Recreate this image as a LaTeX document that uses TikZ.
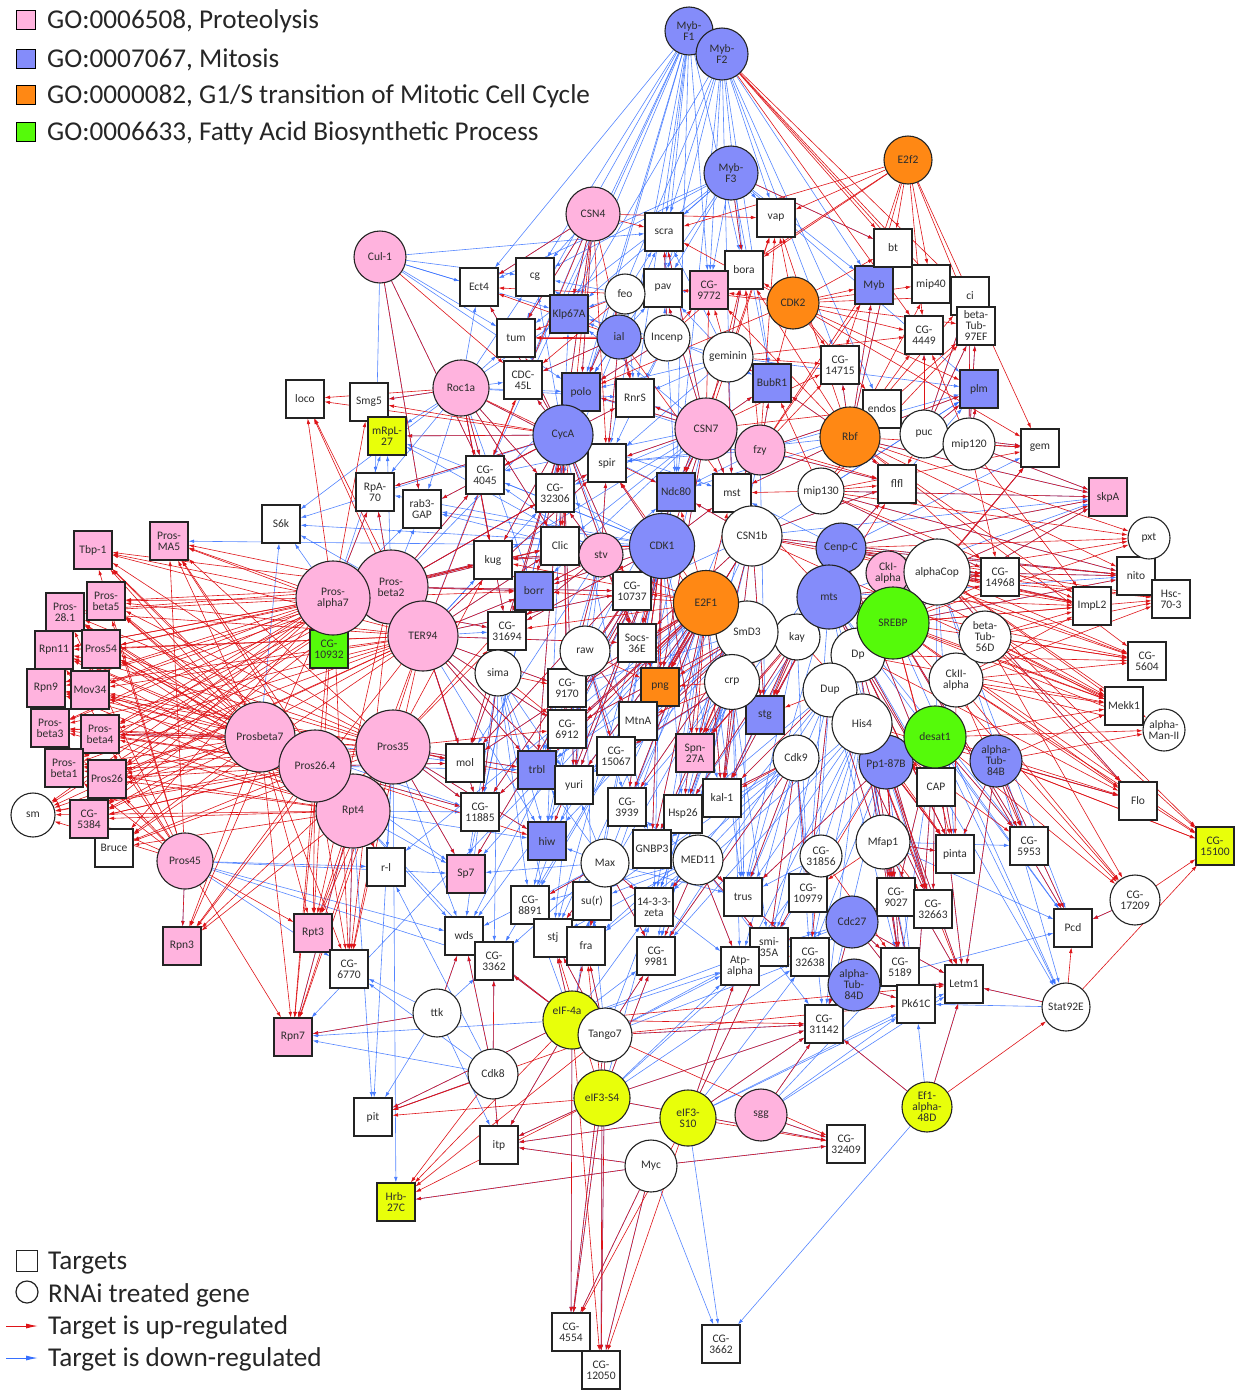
\documentclass[tikz,border=0pt]{standalone}
\usepackage{fontspec}
\setmainfont{Carlito}
\usetikzlibrary{arrows.meta}
\definecolor{pinkc}{RGB}{255,179,222}
\definecolor{bluec}{RGB}{132,140,250}
\definecolor{orangec}{RGB}{255,136,20}
\definecolor{greenc}{RGB}{85,250,10}
\definecolor{yellowc}{RGB}{232,255,10}
\definecolor{upc}{RGB}{222,20,24}
\definecolor{dnc}{RGB}{55,112,255}
\definecolor{txt}{RGB}{45,45,45}
\definecolor{bord}{RGB}{35,35,35}
\newcommand\nodefont{\fontsize{11.5}{11}\selectfont}
\newcommand\legfont{\fontsize{27.2}{30}\selectfont}
\pgfdeclarelayer{edges}
\pgfsetlayers{edges,main}
\begin{document}
\begin{tikzpicture}[x=1pt,y=-1pt,
  tg/.style={rectangle,draw=bord,line width=1.1pt,minimum size=38pt,inner sep=0pt,fill=white,font=\nodefont,text=txt,align=center},
  rg/.style={circle,draw=bord,line width=1.1pt,inner sep=0pt,fill=white,font=\nodefont,text=txt,align=center,minimum size=#1pt},
  rg/.default=50,
  pkf/.style={fill=pinkc}, blf/.style={fill=bluec}, orf/.style={fill=orangec},
  grf/.style={fill=greenc}, yef/.style={fill=yellowc},
  up/.style={draw=upc,line width=0.6pt,-{Latex[length=5.5pt,width=3.6pt]}},
  dn/.style={draw=dnc,opacity=0.85,line width=0.6pt,-{Latex[length=5.5pt,width=3.6pt]}},
  legtxt/.style={anchor=west,font=\legfont,text=black!85,inner sep=0pt}]
\useasboundingbox (0,0) rectangle (1237,1390);

% ---------- legend (top)
\node[draw=black,line width=1.5pt,fill=pinkc,minimum size=19pt,inner sep=0pt] (lg1) at (26,20) {};
\node[draw=black,line width=1.5pt,fill=bluec,minimum size=19pt,inner sep=0pt] (lg2) at (26,59) {};
\node[draw=black,line width=1.5pt,fill=orangec,minimum size=19pt,inner sep=0pt] (lg3) at (26,95) {};
\node[draw=black,line width=1.5pt,fill=greenc,minimum size=19pt,inner sep=0pt] (lg4) at (26,132) {};
\node[legtxt] (lt1) at (47,21) {GO:0006508, Proteolysis};
\node[legtxt] (lt2) at (47,60) {GO:0007067, Mitosis};
\node[legtxt] (lt3) at (47,96) {GO:0000082, G1/S transition of Mitotic Cell Cycle};
\node[legtxt] (lt4) at (47,133) {GO:0006633, Fatty Acid Biosynthetic Process};

% ---------- legend (bottom)
\node[draw=bord,line width=1.2pt,minimum size=21pt,inner sep=0pt] (lgT) at (27,1261) {};
\node[draw=bord,circle,line width=1.2pt,minimum size=22pt,inner sep=0pt] (lgR) at (27,1292) {};
\coordinate (ua) at (6,1326); \coordinate (ub) at (38,1326);
\coordinate (da) at (6,1358); \coordinate (db) at (38,1358);
\draw[draw=upc,line width=1pt,-{Latex[length=12pt,width=5pt]}] (ua) -- (ub);
\draw[draw=dnc,line width=1pt,-{Latex[length=12pt,width=5pt]}] (da) -- (db);
\node[legtxt] (lb1) at (48,1263) {Targets};
\node[legtxt] (lb2) at (48,1295) {RNAi treated gene};
\node[legtxt] (lb3) at (48,1327) {Target is up-regulated};
\node[legtxt] (lb4) at (48,1359) {Target is down-regulated};

% ---------- targets (squares)
\node[tg] (scra) at (664,232) {scra};
\node[tg] (vap) at (776,218) {vap};
\node[tg,blf] (Myb) at (874,285) {Myb};
\node[tg] (bt) at (893,248) {bt};
\node[tg] (Ect4) at (479,287) {Ect4};
\node[tg] (cg) at (535,277) {cg};
\node[tg] (pav) at (663,288) {pav};
\node[tg] (bora) at (744,270) {bora};
\node[tg,pkf] (CG9772) at (709,290) {CG-\\9772};
\node[tg] (mip40) at (931,284) {mip40};
\node[tg] (ci) at (970,296) {ci};
\node[tg] (bTub97EF) at (976,326) {beta-\\Tub-\\97EF};
\node[tg] (CG4449) at (924,335) {CG-\\4449};
\node[tg] (tum) at (516,338) {tum};
\node[tg,blf] (Klp67A) at (569,314) {Klp67A};
\node[tg] (CG14715) at (840,365) {CG-\\14715};
\node[tg] (CDC45L) at (523,380) {CDC-\\45L};
\node[tg,blf] (polo) at (581,392) {polo};
\node[tg] (RnrS) at (635,398) {RnrS};
\node[tg,blf] (BubR1) at (772,383) {BubR1};
\node[tg] (loco) at (305,399) {loco};
\node[tg] (Smg5) at (369,402) {Smg5};
\node[tg,yef] (mRpL27) at (387,436) {mRpL-\\27};
\node[tg] (endos) at (882,409) {endos};
\node[tg,blf] (plm) at (979,389) {plm};
\node[tg] (gem) at (1040,448) {gem};
\node[tg] (spir) at (607,463) {spir};
\node[tg] (CG4045) at (485,475) {CG-\\4045};
\node[tg] (CG32306) at (555,493) {CG-\\32306};
\node[tg] (RpA70) at (375,492) {RpA-\\70};
\node[tg] (rab3GAP) at (422,509) {rab3-\\GAP};
\node[tg,blf] (Ndc80) at (676,492) {Ndc80};
\node[tg] (mst) at (732,493) {mst};
\node[tg] (flfl) at (897,484) {flfl};
\node[tg,pkf] (skpA) at (1108,497) {skpA};
\node[tg] (S6k) at (281,524) {S6k};
\node[tg] (Clic) at (560,546) {Clic};
\node[tg] (CG14968) at (1000,577) {CG-\\14968};
\node[tg] (nito) at (1136,576) {nito};
\node[tg] (Hsc703) at (1171,599) {Hsc-\\70-3};
\node[tg] (ImpL2) at (1092,606) {ImpL2};
\node[tg,pkf] (Tbp1) at (93,550) {Tbp-1};
\node[tg,pkf] (ProsMA5) at (169,541) {Pros-\\MA5};
\node[tg] (kug) at (493,560) {kug};
\node[tg,blf] (borr) at (534,591) {borr};
\node[tg] (CG10737) at (632,591) {CG-\\10737};
\node[tg,pkf] (Pros281) at (65,612) {Pros-\\28.1};
\node[tg,pkf] (Prosb5) at (106,601) {Pros-\\beta5};
\node[tg,grf] (CG10932) at (329,649) {CG-\\10932};
\node[tg] (CG31694) at (507,631) {CG-\\31694};
\node[tg] (Socs36E) at (637,643) {Socs-\\36E};
\node[tg] (CG5604) at (1147,661) {CG-\\5604};
\node[tg,pkf] (Rpn11) at (54,650) {Rpn11};
\node[tg,pkf] (Pros54) at (101,649) {Pros54};
\node[tg,orf] (png) at (660,687) {png};
\node[tg] (CG9170) at (567,688) {CG-\\9170};
\node[tg,pkf] (Rpn9) at (46,688) {Rpn9};
\node[tg,pkf] (Mov34) at (90,690) {Mov34};
\node[tg] (MtnA) at (638,721) {MtnA};
\node[tg,blf] (stg) at (765,715) {stg};
\node[tg] (CG6912) at (567,729) {CG-\\6912};
\node[tg] (Mekk1) at (1124,706) {Mekk1};
\node[tg,pkf] (Prosb3) at (50,728) {Pros-\\beta3};
\node[tg,pkf] (Prosb4) at (100,734) {Pros-\\beta4};
\node[tg] (mol) at (465,763) {mol};
\node[tg,blf] (trbl) at (537,770) {trbl};
\node[tg] (yuri) at (574,785) {yuri};
\node[tg] (CG15067) at (616,756) {CG-\\15067};
\node[tg,pkf] (Spn27A) at (695,753) {Spn-\\27A};
\node[tg] (kal1) at (722,798) {kal-1};
\node[tg] (CAP) at (936,787) {CAP};
\node[tg,pkf] (Prosb1) at (64,768) {Pros-\\beta1};
\node[tg,pkf] (Pros26) at (107,779) {Pros26};
\node[tg] (Bruce) at (114,848) {Bruce};
\node[tg,pkf] (CG5384) at (89,819) {CG-\\5384};
\node[tg] (CG11885) at (480,812) {CG-\\11885};
\node[tg] (CG3939) at (627,807) {CG-\\3939};
\node[tg] (Hsp26) at (683,814) {Hsp26};
\node[tg,blf] (hiw) at (547,841) {hiw};
\node[tg] (Flo) at (1138,801) {Flo};
\node[tg,yef] (CG15100) at (1215,846) {CG-\\15100};
\node[tg] (GNBP3) at (652,849) {GNBP3};
\node[tg] (pinta) at (955,854) {pinta};
\node[tg] (CG5953) at (1029,846) {CG-\\5953};
\node[tg] (rl) at (386,867) {r-l};
\node[tg,pkf] (Sp7) at (466,874) {Sp7};
\node[tg] (CG8891) at (530,905) {CG-\\8891};
\node[tg] (sur) at (592,901) {su(r)};
\node[tg] (z1433) at (654,907) {14-3-3-\\zeta};
\node[tg] (trus) at (743,897) {trus};
\node[tg] (CG10979) at (808,893) {CG-\\10979};
\node[tg] (CG9027) at (896,897) {CG-\\9027};
\node[tg] (CG32663) at (933,909) {CG-\\32663};
\node[tg] (Pcd) at (1073,928) {Pcd};
\node[tg,pkf] (Rpn3) at (182,946) {Rpn3};
\node[tg,pkf] (Rpt3) at (313,933) {Rpt3};
\node[tg] (wds) at (464,936) {wds};
\node[tg] (stj) at (553,938) {stj};
\node[tg] (fra) at (586,946) {fra};
\node[tg] (CG3362) at (494,961) {CG-\\3362};
\node[tg] (CG9981) at (656,956) {CG-\\9981};
\node[tg] (smi35A) at (769,947) {smi-\\35A};
\node[tg] (CG32638) at (810,957) {CG-\\32638};
\node[tg] (Atpa) at (740,966) {Atp-\\alpha};
\node[tg] (CG6770) at (349,969) {CG-\\6770};
\node[tg] (CG5189) at (900,967) {CG-\\5189};
\node[tg] (Letm1) at (964,984) {Letm1};
\node[tg] (Pk61C) at (916,1004) {Pk61C};
\node[tg] (CG31142) at (824,1024) {CG-\\31142};
\node[tg,pkf] (Rpn7) at (293,1037) {Rpn7};
\node[tg] (pit) at (373,1117) {pit};
\node[tg] (CG32409) at (846,1144) {CG-\\32409};
\node[tg] (itp) at (499,1145) {itp};
\node[tg,yef] (Hrb27C) at (396,1202) {Hrb-\\27C};
\node[tg] (CG4554) at (571,1332) {CG-\\4554};
\node[tg] (CG12050) at (601,1370) {CG-\\12050};
\node[tg] (CG3662) at (721,1344) {CG-\\3662};

% ---------- RNAi treated genes (circles)
\node[rg=74,pkf] (Prosb2) at (391,587) {Pros-\\beta2};
\node[rg=74,pkf] (Prosa7) at (333,598) {Pros-\\alpha7};
\node[rg=70,pkf] (TER94) at (423,636) {TER94};
\node[rg=70,pkf] (Prosb7) at (260,737) {Prosbeta7};
\node[rg=74,pkf] (Rpt4) at (353,811) {Rpt4};
\node[rg=72,pkf] (Pros264) at (315,766) {Pros26.4};
\node[rg=74,pkf] (Pros35) at (393,747) {Pros35};
\node[rg=56,pkf] (Pros45) at (185,861) {Pros45};
\node[rg=44] (sm) at (33,815) {sm};
\node[rg=52,pkf] (Cul1) at (380,257) {Cul-1};
\node[rg=56,pkf] (Roc1a) at (461,388) {Roc1a};
\node[rg=54,pkf] (CSN4) at (593,214) {CSN4};
\node[rg=48,blf] (MybF1) at (689,31) {Myb-\\F1};
\node[rg=52,blf] (MybF2) at (722,54) {Myb-\\F2};
\node[rg=54,blf] (MybF3) at (731,173) {Myb-\\F3};
\node[rg=48,orf] (E2f2) at (908,160) {E2f2};
\node[rg=40] (feo) at (625,294) {feo};
\node[rg=44,blf] (ial) at (619,337) {ial};
\node[rg=46] (Incenp) at (667,338) {Incenp};
\node[rg=50] (geminin) at (728,357) {geminin};
\node[rg=52,orf] (CDK2) at (793,303) {CDK2};
\node[rg=60,blf] (CycA) at (563,435) {CycA};
\node[rg=62,pkf] (CSN7) at (706,429) {CSN7};
\node[rg=50,pkf] (fzy) at (760,450) {fzy};
\node[rg=60,orf] (Rbf) at (850,437) {Rbf};
\node[rg=48] (puc) at (924,434) {puc};
\node[rg=52] (mip120) at (969,444) {mip120};
\node[rg=46] (mip130) at (821,491) {mip130};
\node[rg=44,pkf] (stv) at (601,555) {stv};
\node[rg=65,blf] (CDK1) at (662,546) {CDK1};
\node[rg=60] (CSN1b) at (752,536) {CSN1b};
\node[rg=50,blf] (CenpC) at (841,548) {Cenp-C};
\node[rg=44,pkf] (CkIa) at (888,573) {CkI-\\alpha};
\node[rg=66] (alphaCop) at (937,572) {alphaCop};
\node[rg=46] (kay) at (797,637) {kay};
\node[rg=64,blf] (mts) at (829,597) {mts};
\node[rg=54] (Dp) at (858,655) {Dp};
\node[rg=72,grf] (SREBP) at (893,623) {SREBP};
\node[rg=62] (SmD3) at (747,632) {SmD3};
\node[rg=65,orf] (E2F1) at (706,603) {E2F1};
\node[rg=46] (sima) at (498,673) {sima};
\node[rg=50] (raw) at (585,651) {raw};
\node[rg=55] (crp) at (732,682) {crp};
\node[rg=54] (Dup) at (830,690) {Dup};
\node[rg=54,blf] (Pp187B) at (886,762) {\\[2pt]Pp1-87B};
\node[rg=60] (His4) at (862,724) {His4};
\node[rg=62,grf] (desat1) at (935,737) {desat1};
\node[rg=52,blf] (aTub84B) at (996,761) {alpha-\\Tub-\\84B};
\node[rg=54] (CkIIa) at (956,680) {CkII-\\alpha};
\node[rg=52] (bTub56D) at (985,637) {beta-\\Tub-\\56D};
\node[rg=42] (pxt) at (1149,538) {pxt};
\node[rg=42] (aManII) at (1164,730) {alpha-\\Man-II};
\node[rg=46] (Cdk9) at (796,758) {Cdk9};
\node[rg=50] (MED11) at (698,860) {MED11};
\node[rg=48] (Max) at (605,863) {Max};
\node[rg=54] (Mfap1) at (883,842) {Mfap1};
\node[rg=42] (CG31856) at (821,856) {CG-\\31856};
\node[rg=52,blf] (Cdc27) at (852,922) {Cdc27};
\node[rg=52,blf] (aTub84D) at (854,985) {alpha-\\Tub-\\84D};
\node[rg=50] (CG17209) at (1135,900) {CG-\\17209};
\node[rg=48] (Stat92E) at (1066,1007) {Stat92E};
\node[rg=48] (ttk) at (437,1013) {ttk};
\node[rg=58,yef,label={[font=\nodefont,text=txt,xshift=-5pt,yshift=9pt]center:eIF-4a}] (eIF4a) at (572,1020) {};
\node[rg=54] (Tango7) at (605,1035) {Tango7};
\node[rg=50] (Cdk8) at (493,1074) {Cdk8};
\node[rg=56,yef] (eIF3S4) at (602,1098) {eIF3-S4};
\node[rg=56,yef] (eIF3S10) at (688,1118) {eIF3-\\S10};
\node[rg=52,pkf] (sgg) at (761,1115) {sgg};
\node[rg=50,yef] (Ef1a48D) at (927,1107) {Ef1-\\alpha-\\48D};
\node[rg=52] (Myc) at (651,1166) {Myc};

% ---------- connectors
\begin{pgfonlayer}{edges}
% down-regulated (blue)
\foreach \s/\L in {
MybF1/{scra,Ect4,cg,tum,Klp67A,pav,CG9772,polo,RnrS,CDC45L,spir,bora,CG32306,Ndc80,CG4045},
MybF2/{scra,pav,CG9772,bora,vap,Myb,BubR1,mst,Ndc80,polo,Klp67A,CG14715,endos},
MybF3/{scra,vap,pav,Klp67A,polo,Myb,bt,CG9772,bora,BubR1,plm,cg,Ect4,tum},
CSN4/{Ect4,cg,tum,Klp67A,CDC45L,polo,CG32306},
Cul1/{Ect4,cg,tum,Klp67A,scra,RpA70,rab3GAP,CG4045,polo},
Roc1a/{Ect4,tum,cg,Klp67A,CDC45L,RpA70,rab3GAP,mRpL27,S6k,Smg5,CG4045,CG32306,kug,borr,CG31694,Clic,spir,polo,RnrS},
feo/{scra,Klp67A,cg,polo,RnrS,CG9772},
ial/{Klp67A,cg,scra,polo,RnrS,CDC45L,CG32306,spir,pav},
Incenp/{pav,scra,RnrS,polo,spir,Ndc80,BubR1},
geminin/{BubR1,bora,pav,Ndc80,mst,plm,RnrS,spir,polo,Klp67A,scra},
CycA/{Klp67A,tum,Ect4,cg,RnrS,CDC45L,CG4045,CG32306,rab3GAP,RpA70,mRpL27,S6k,Clic,kug,Ndc80,mol,trbl,yuri,CG6912,CG9170,CG31694,borr,Socs36E,CG10737,mst,png,hiw,Sp7,CG11885,GNBP3},
CSN7/{BubR1,Ndc80,mst,RnrS,polo,spir,Klp67A,scra,pav,CG10737,Socs36E,Clic,kug,borr,CG32306,CG4045,png,CG9170,CG6912,MtnA},
fzy/{BubR1,mst,plm,endos,flfl,Ndc80,spir,polo,RnrS,stg,Spn27A,png},
Rbf/{plm,bt,Myb,BubR1,CG14715,mst,Ndc80,flfl,spir,skpA},
puc/{plm,CG4449,ci,bTub97EF,gem},
mip120/{plm,bTub97EF,ci,gem,skpA},
mip130/{skpA,nito,CG14968,plm},
stv/{kug,borr,CG31694,CG32306,spir,CG4045,rab3GAP,mRpL27,CG9170,CG6912,yuri,trbl,mol,Socs36E,png,Ndc80},
CDK1/{ProsMA5,S6k,kug,borr,Clic,spir,CG32306,CG4045,rab3GAP,RpA70,mRpL27,Ndc80,mst,CG31694,CG9170,CG6912,mol,trbl,yuri,CG11885,hiw,Sp7,CG3939,GNBP3,sur,CG8891,z1433,wds,stj,fra,CG15067,MtnA,Spn27A,Hsp26,kal1},
CSN1b/{Ndc80,plm,flfl,skpA,CG14968,nito,Socs36E,CG10737,png,MtnA,CG15067,Spn27A,stg,kal1,Hsp26,CG3939},
CenpC/{skpA,nito,CG14968,flfl,plm,gem,ImpL2,stg,CAP,mst,Spn27A,kal1},
alphaCop/{nito,skpA,CG14968,gem,Pcd,CAP,pinta,CG5953,Flo},
E2F1/{trbl,hiw,mol,Sp7,CG11885,yuri,CG3939,GNBP3,CG8891,sur,z1433,wds,rl,Rpn7,CG9170,CG6912,CG15067,MtnA,kal1,Hsp26,stj,fra,CG9981,trus,CG3362},
mts/{nito,skpA,CG14968,Pcd,CG5953,pinta,Stat92E,stg,CAP,Spn27A,kal1,Hsp26,trus,CG10979,CG9027,CG32663},
SREBP/{nito,skpA,Pcd,Stat92E,CG5953},
Prosa7/{S6k,mRpL27,RpA70,rab3GAP,CG31694,kug},
Prosb2/{S6k,mRpL27,RpA70,rab3GAP,CG4045,kug,borr,CG32306,Clic,CG10737,spir,polo},
TER94/{kug,borr,CG31694,Clic,CG32306,CG9170,mol,CG6912,yuri,trbl,hiw,CG11885,Socs36E,CG10737,spir,CG4045},
Prosb7/{S6k,CG11885,mol,Prosb4},
Pros264/{mol,CG11885,Sp7,trbl},
Pros35/{mol,CG11885,Sp7,hiw,trbl,wds,rl,pit,Hrb27C},
Rpt4/{rl,Sp7,wds,CG3362,CG6770,pit,Rpn7,CG11885,hiw},
Pros45/{rl,Sp7,wds,CG6770,CG3362,Rpn3},
SmD3/{trbl,hiw,yuri,CG3939,GNBP3,Hsp26,kal1,CG15067,MtnA,CG6912,CG9170,z1433,sur,CG9981,trus},
kay/{kal1,Hsp26,trus,CG10979},
Dp/{CAP,pinta,CG9027,CG32663,CG5189},
sima/{mol,CG11885,trbl,hiw,Sp7,CG8891,wds,CG3362,stj,yuri},
raw/{CG6912,yuri,trbl,hiw,CG3939,CG15067,MtnA,GNBP3,sur,stj,CG8891},
crp/{yuri,CG3939,Hsp26,GNBP3,kal1,trus,CG15067,Spn27A,z1433,CG9981,smi35A,Atpa},
Dup/{CAP,pinta,trus,CG10979,CG9027,CG32663,CG5189,Hsp26,kal1,z1433,CG9981,smi35A,CG32638},
His4/{CG10979,CG9027,CG32663,trus,smi35A,CG32638,CG5189,Pk61C,CG9981,Atpa,z1433,CG31142},
desat1/{pinta,CG5953,Pcd,Stat92E,Letm1,CG9027,CG32663,CG5189,Pk61C},
Pp187B/{CG9027,CG32663,CG5189,Pk61C,Letm1,trus,smi35A,CG32638,CG31142},
aTub84B/{CG5953,Pcd,Stat92E,Letm1,pinta,Flo},
Cdk9/{trus,CG10979,z1433,CG9981,smi35A,Atpa,GNBP3,Hsp26,sur,fra,CG32638,CG31142},
MED11/{z1433,sur,fra,stj,CG8891,CG9981,Atpa,CG3939,trus,smi35A,CG32638,CG31142},
Mfap1/{pinta,CG5953,Pcd,Letm1,Pk61C,CG5189},
CG31856/{trus,Atpa,smi35A},
Max/{fra,stj,CG8891,wds,CG3362,z1433,hiw,Sp7,CG9981,Atpa,trus,yuri,trbl},
Cdc27/{CG5189,Pk61C,Letm1,CG31142,CG32638,Atpa,smi35A},
aTub84D/{Pk61C,Letm1,Pcd,CG31142},
Stat92E/{Letm1,Pk61C},
CG17209/{Pcd},
ttk/{Rpn7,pit,itp,wds,CG3362,CG6770},
eIF4a/{CG4554,fra,stj,wds,CG3362,CG8891,sur,z1433,CG9981,Atpa,smi35A,itp,pit,Rpn7},
Tango7/{CG4554,CG12050,fra,stj,sur,z1433,CG9981,Atpa,smi35A,CG32638,CG31142},
Cdk8/{itp,pit,Rpn7,CG3362,wds,CG6770,rl},
eIF3S4/{CG4554,CG12050,itp,Atpa,smi35A,CG32638,CG31142,CG32409,CG9981,z1433},
eIF3S10/{CG3662,CG31142,CG32638,smi35A,Atpa,Pk61C,Letm1,itp},
sgg/{CG31142,CG32409,Pk61C,Letm1,CG5189},
Ef1a48D/{CG31142,CG3662,Letm1,Pk61C},
Myc/{CG4554,CG12050,CG3662,itp,CG32409,Hrb27C}}
{\foreach \t in \L {\draw[dn] (\s) -- (\t);}}
% up-regulated (red)
\foreach \s/\L in {
Prosa7/{Tbp1,ProsMA5,Pros281,Prosb5,Rpn11,Pros54,Rpn9,Mov34,Prosb3,Prosb4,Prosb1,Pros26,CG5384,sm,Bruce,loco,Smg5,RpA70,Rpn3,Rpt3,Rpn7,CG6770,kug,CG31694,borr,Clic},
Prosb2/{Tbp1,ProsMA5,Pros281,Prosb5,Rpn11,Pros54,Rpn9,Mov34,Prosb3,Prosb4,Prosb1,Pros26,CG5384,sm,loco,RpA70,Rpt3,CG6770,borr,kug,CG32306,Clic,spir,CG4045,CG10737},
TER94/{Tbp1,ProsMA5,Pros281,Prosb5,Rpn11,Pros54,Rpn9,Mov34,Prosb3,Prosb4,Prosb1,Pros26,CG5384,sm,Bruce,loco,Rpn3,Rpt3,CG6770,Rpn7,CDC45L,CG10737,borr,mol,CG11885,CG9170,CG6912,trbl,yuri,Socs36E,Clic,spir},
Prosb7/{Tbp1,ProsMA5,Pros281,Prosb5,Rpn11,Pros54,Rpn9,Mov34,Prosb3,Prosb4,Prosb1,Pros26,CG5384,sm,Bruce,Rpn3,Rpt3,Rpn7,CG6770},
Pros264/{Tbp1,ProsMA5,Pros281,Prosb5,Rpn11,Pros54,Rpn9,Mov34,Prosb3,Prosb4,Prosb1,Pros26,CG5384,sm,Bruce,Rpn3,Rpt3,Rpn7,CG6770,mol,CG11885,hiw},
Pros35/{Tbp1,ProsMA5,Pros281,Prosb5,Rpn11,Pros54,Rpn9,Mov34,Prosb3,Prosb4,Prosb1,Pros26,CG5384,sm,Bruce,Rpn3,Rpt3,Rpn7,CG6770,kug,borr,CG31694,CG11885,mol,trbl,hiw,Sp7,yuri,CG6912},
Rpt4/{Tbp1,ProsMA5,Pros281,Prosb5,Rpn11,Pros54,Rpn9,Mov34,Prosb3,Prosb4,Prosb1,Pros26,CG5384,sm,Bruce,Rpn3,Rpt3,Rpn7,CG6770,rl},
Pros45/{Tbp1,ProsMA5,Pros281,Prosb5,Rpn11,Prosb3,Prosb4,Prosb1,Pros26,CG5384,sm,Rpn3,Rpn7,Rpt3},
Roc1a/{CG32306,CG4045,Clic,kug,spir,loco,Smg5,Ndc80,CG31694},
Cul1/{CG4045,rab3GAP,CDC45L},
CSN4/{tum,Klp67A,polo,RnrS,Ect4,scra,vap,spir,CG32306,CG4045,Clic},
MybF2/{bt,mip40,ci,CG4449,bTub97EF},
E2f2/{bt,Myb,mip40,CG4449,bTub97EF,CG9772,vap,scra,bora,gem,CG14715},
MybF3/{bora,bt},
feo/{tum,Ect4,CDC45L,polo},
CDK2/{vap,bora,bt,Myb,mip40,ci,CG4449,bTub97EF,CG14715,BubR1,endos,plm,gem,scra,polo,CG9772,pav},
ial/{Ect4,tum,CDC45L,RnrS,spir,mst},
Incenp/{tum,scra,CG9772,bora,polo},
geminin/{CG9772,bora,vap,BubR1,CG14715,CG4449,mst,Ndc80},
CycA/{Ect4,tum,CDC45L,RnrS,CG4045,CG32306,rab3GAP,RpA70,mRpL27,Smg5,loco,Clic,kug,borr,CG31694,Socs36E,CG10737,mol,trbl,CG9170,CG6912,yuri},
CSN7/{scra,pav,CG9772,bora,vap,RnrS,polo,BubR1,Ndc80,mst,spir,CG14715,flfl,endos,CG10737,Socs36E,png},
fzy/{bora,vap,CG14715,BubR1,endos,flfl,mst,bt,Myb},
Rbf/{bt,Myb,mip40,ci,CG4449,bTub97EF,CG14715,flfl,plm,gem,BubR1,CG9772,vap,bora,mst,skpA,CG14968,ImpL2,nito,CG5604,pxt},
puc/{ci,bTub97EF,CG4449,plm,gem,flfl},
mip120/{bTub97EF,plm,gem,skpA,CG14968,ci,CG4449,ImpL2},
mip130/{pxt,skpA,gem,flfl,CG14968,nito,ImpL2,mst,BubR1,endos,bTub97EF},
stv/{kug,borr,CG31694,Socs36E,CG9170,png,CG32306,spir},
CDK1/{spir,Clic,Socs36E,png,CG6912,MtnA,CG15067,mst,borr,kug,CG31694,CG9170,yuri,trbl,mol,Spn27A,stg,hiw,Sp7,CG11885,GNBP3,CG3939},
CSN1b/{Ndc80,flfl,CG14968,png,stg,Spn27A,kal1,MtnA,Socs36E,ImpL2,nito,Mekk1},
CenpC/{flfl,CG14968,ImpL2,nito,Hsc703,CG5604,skpA,pxt,stg,CAP},
CkIa/{CG14968,ImpL2,Hsc703,CG5604,Mekk1},
alphaCop/{CG14968,ImpL2,nito,Hsc703,CG5604,Mekk1,aManII,Flo,CG15100,pxt,gem,skpA},
E2F1/{CG10737,Socs36E,png,MtnA,CG6912,CG15067,Spn27A,stg,kal1,CG3939,Hsp26,GNBP3,yuri,trbl,borr,kug,CG9170,mol,CG31694,Clic,spir,Ndc80,mst,CG11885},
mts/{stg,CAP,Spn27A,kal1,CG14968,flfl,ImpL2,CG5604,Mekk1,mst,pinta},
SREBP/{CG14968,ImpL2,Hsc703,nito,CG5604,Mekk1,aManII,Flo,CG15100,CG17209,pxt,CAP,pinta,CG5953,Pcd,gem,skpA},
SmD3/{png,MtnA,stg,Spn27A,CG15067,kal1,Hsp26,CG3939,GNBP3,CG6912},
kay/{stg,Spn27A,kal1,CAP,Hsp26},
Dp/{CAP,pinta,CG9027,CG32663,Mekk1,CG5604,Flo},
bTub56D/{CG5604,Mekk1,Hsc703,ImpL2,Flo,CG15100,aManII,CG17209},
sima/{CG9170,CG6912,mol,CG11885},
raw/{png,CG6912,MtnA,CG15067,yuri},
crp/{MtnA,Spn27A,kal1,png,CG15067},
CkIIa/{Mekk1,aManII,Flo,CG15100,CG17209,CG5604,Hsc703,ImpL2,pinta,CG5953},
Dup/{CAP,stg,kal1,pinta,CG9027,CG32663,CG10979},
His4/{CAP,pinta,CG9027,CG32663,CG5189,Letm1,CG5953,Flo},
desat1/{pinta,CG5953,Flo,CG15100,CG17209,Mekk1,aManII,Letm1,Pk61C,CG32663,CG9027},
Pp187B/{pinta,CG9027,CG32663,CG5189,Letm1,trus,CG10979},
aTub84B/{CG5953,Flo,CG15100,CG17209,Mekk1,aManII,Pcd,pinta,Letm1},
Cdk9/{kal1,Hsp26,trus,CG10979,CG9981,smi35A},
MED11/{z1433,CG9981,trus,smi35A,CG32638,Atpa},
Mfap1/{CG9027,CG32663,pinta,CG5189,Letm1,Pk61C,CG10979},
CG31856/{CG32638,smi35A,CG5189},
Max/{z1433,fra,stj,CG8891,CG9981},
Cdc27/{CG5189,Pk61C,CG31142,CG9027,Letm1},
aTub84D/{Pk61C,CG31142,Letm1,smi35A},
Stat92E/{Letm1,Pcd,CG15100},
CG17209/{CG15100,Pcd},
ttk/{Rpn7,wds},
eIF4a/{CG4554,CG12050,pit,itp,Hrb27C,wds,stj,fra,CG3362,CG31142,CG32409,Letm1},
Tango7/{CG4554,CG12050,Hrb27C,pit,fra,stj,CG9981,CG31142,Pk61C},
Cdk8/{Hrb27C,pit,itp,wds,CG3362},
eIF3S4/{CG4554,CG12050,Hrb27C,pit,itp,CG32409,CG31142,fra,stj,CG9981},
eIF3S10/{CG32409,CG31142,itp,CG12050,Atpa,smi35A,CG4554},
sgg/{CG32409,CG31142},
Ef1a48D/{CG31142,Stat92E,Letm1},
Myc/{CG12050,itp,Hrb27C,CG4554,CG32409}}
{\foreach \t in \L {\draw[up] (\s) -- (\t);}}
\end{pgfonlayer}
\end{tikzpicture}
\end{document}
